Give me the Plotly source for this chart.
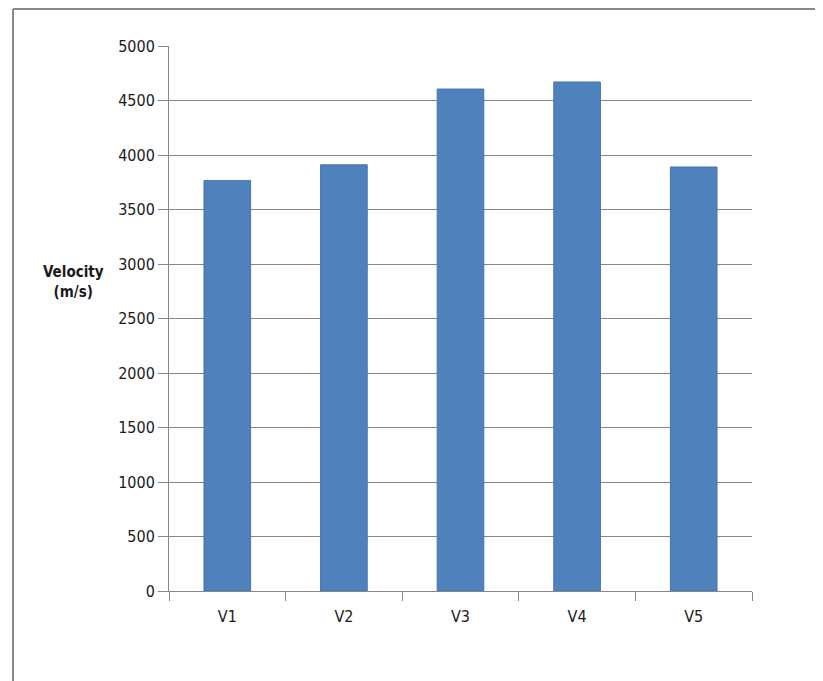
import plotly.graph_objects as go

categories = ["V1", "V2", "V3", "V4", "V5"]
velocity = [3765, 3910, 4605, 4670, 3890]
y_ticks = [0, 500, 1000, 1500, 2000, 2500, 3000, 3500, 4000, 4500, 5000]

OFF = 8  # browser body margin
W, H = 823 - OFF, 681 - OFF
# plot area in page pixels: x 169..752, y 46..591
L = 169 - OFF
T = 46 - OFF
R = W - (752 - OFF)
B = H - (591 - OFF)
pw = W - L - R
ph = H - T - B

def px_x(p):
    return (p - OFF - L) / pw

def px_y(p):
    return (H - B - (p - OFF)) / ph

font_fam = "DejaVu Sans Condensed, Arial Narrow, sans-serif"

fig = go.Figure(go.Bar(
    x=categories, y=velocity,
    marker=dict(color="#4F81BD", line=dict(color="#4676B0", width=1)),
    width=0.4,
))

fig.update_layout(
    width=W, height=H,
    margin=dict(l=L, r=R, t=T, b=B),
    paper_bgcolor="white", plot_bgcolor="white",
    showlegend=False,
    font=dict(family=font_fam, size=16, color="#1a1a1a"),
    xaxis=dict(
        showline=True, linecolor="#868686", linewidth=1,
        ticks="outside", tickson="boundaries", ticklen=9, tickcolor="#868686",
        showgrid=False, ticklabelstandoff=11,
        tickfont=dict(size=16),
    ),
    yaxis=dict(
        range=[0, 5000], tickvals=y_ticks,
        showline=True, linecolor="#868686", linewidth=1,
        ticks="outside", ticklen=10, tickcolor="#868686",
        showgrid=True, gridcolor="#868686", gridwidth=1,
        zeroline=False, ticklabelstandoff=0,
        tickfont=dict(size=16),
    ),
    shapes=[
        dict(type="line", xref="paper", yref="paper",
             x0=px_x(13), x1=px_x(840), y0=px_y(9), y1=px_y(9),
             line=dict(color="#8a8a8a", width=2)),
        dict(type="line", xref="paper", yref="paper",
             x0=px_x(13), x1=px_x(13), y0=px_y(9), y1=px_y(700),
             line=dict(color="#8a8a8a", width=2)),
    ],
    annotations=[
        dict(text="<b>Velocity<br>(m/s)</b>", xref="paper", yref="paper",
             x=px_x(73), y=px_y(282), showarrow=False,
             xanchor="center", yanchor="middle",
             font=dict(size=15, family=font_fam, color="#1a1a1a"), align="center"),
    ],
)

fig.write_html("out.html")
